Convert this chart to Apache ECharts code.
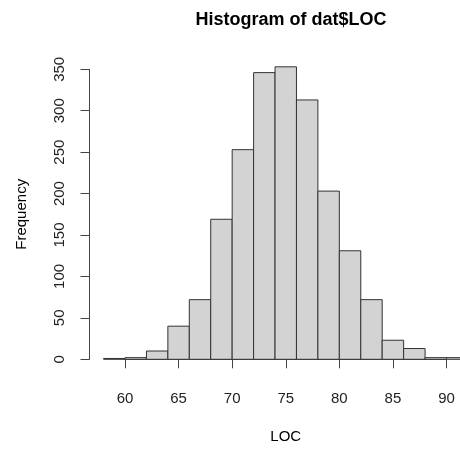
<!DOCTYPE html>
<html>
<head>
<meta charset="utf-8">
<script src="https://cdn.jsdelivr.net/npm/echarts@6/dist/echarts.min.js"></script>
<style>
  html, body { margin: 0; padding: 0; background: #fff; }
  #chart { width: 460px; height: 450px; }
</style>
</head>
<body>
<div id="chart"></div>
<script>
// histogram bins (width 2) and counts
const binStarts = [58, 60, 62, 64, 66, 68, 70, 72, 74, 76, 78, 80, 82, 84, 86, 88, 90];
const binEnds   = [60, 62, 64, 66, 68, 70, 72, 74, 76, 78, 80, 82, 84, 86, 88, 90, 92];
const counts    = [1, 2, 10, 40, 72, 169, 253, 346, 353, 313, 203, 131, 72, 23, 13, 2, 2];

const xTicks = [60, 65, 70, 75, 80, 85, 90];
const yTicks = [0, 50, 100, 150, 200, 250, 300, 350];

const font = 'Liberation Sans, Arial, Helvetica, sans-serif';

const data = binStarts.map((s, i) => [s, binEnds[i], counts[i]]);

const chart = echarts.init(document.getElementById('chart'));

chart.setOption({
  animation: false,
  backgroundColor: '#fff',
  title: {
    text: 'Histogram of dat$LOC',
    left: 286,
    textAlign: 'center',
    top: 6,
    textStyle: { fontFamily: font, fontSize: 18, fontWeight: 'bold', color: '#000' }
  },
  grid: { left: 125, right: 13.5, top: 69.3, bottom: 90.7 },
  xAxis: {
    type: 'value',
    min: xTicks[0],
    max: xTicks[xTicks.length - 1],
    interval: 5,
    offset: 12.4,
    name: 'LOC',
    nameLocation: 'middle',
    nameGap: 58,
    nameTextStyle: { fontFamily: font, fontSize: 15, color: '#000' },
    axisLine: { show: true, lineStyle: { color: '#444', width: 1 } },
    axisTick: { show: true, length: 9, lineStyle: { color: '#444' } },
    axisLabel: { margin: 20, fontFamily: font, fontSize: 15, color: '#222' },
    splitLine: { show: false }
  },
  yAxis: {
    type: 'value',
    min: yTicks[0],
    max: yTicks[yTicks.length - 1],
    interval: 50,
    offset: 35.5,
    name: 'Frequency',
    nameLocation: 'middle',
    nameGap: 60,
    nameRotate: 90,
    nameTextStyle: { fontFamily: font, fontSize: 15, color: '#000' },
    axisLine: { show: true, lineStyle: { color: '#444', width: 1 } },
    axisTick: { show: true, length: 9, lineStyle: { color: '#444' } },
    axisLabel: { rotate: 90, margin: 22, fontFamily: font, fontSize: 15, color: '#222' },
    splitLine: { show: false }
  },
  series: [{
    type: 'custom',
    clip: false,
    data: data,
    encode: { x: [0, 1], y: 2 },
    renderItem: function (params, api) {
      const topLeft = api.coord([api.value(0), api.value(2)]);
      const bottomRight = api.coord([api.value(1), 0]);
      return {
        type: 'rect',
        shape: {
          x: topLeft[0],
          y: topLeft[1],
          width: bottomRight[0] - topLeft[0],
          height: bottomRight[1] - topLeft[1]
        },
        style: { fill: '#d3d3d3', stroke: '#333', lineWidth: 1 }
      };
    }
  }]
});
</script>
</body>
</html>
